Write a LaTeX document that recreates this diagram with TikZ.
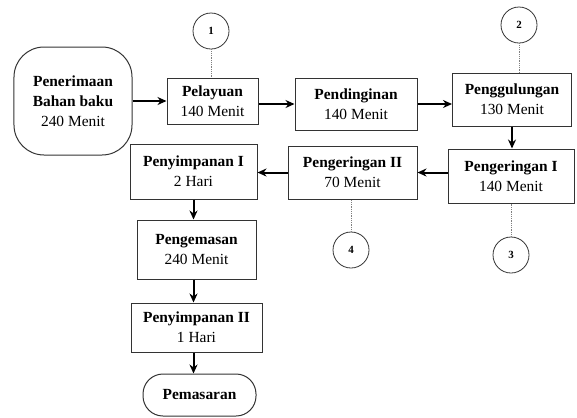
\documentclass[tikz,border=0pt]{standalone}
\usepackage{fontspec}
\setmainfont{Liberation Serif}
\usetikzlibrary{arrows,arrows.meta,positioning,calc}

\begin{document}
\begin{tikzpicture}[x=1bp,y=-1bp,
  proses/.style={draw=black!80,line width=1bp,align=center,inner sep=0pt,
    font=\fontsize{15.5}{20}\selectfont},
  ujung/.style={proses,rounded corners=30bp},
  nomor/.style={draw=black!80,line width=0.8bp,circle,minimum size=36bp,inner sep=0pt,
    font=\bfseries\fontsize{11}{11}\selectfont},
  alur/.style={-{Stealth[length=9bp,width=8bp]},line width=2bp},
  titik/.style={densely dotted,gray,line width=0.8bp}]

\useasboundingbox (0,0) rectangle (577,417);

\node[ujung,minimum width=118bp,minimum height=108bp] (pen) at (73,101)
  {\textbf{Penerimaan}\\\textbf{Bahan baku}\\240 Menit};
\node[proses,minimum width=91bp,minimum height=46bp]  (pel) at (212.5,101) {\textbf{Pelayuan}\\140 Menit};
\node[proses,minimum width=122bp,minimum height=52bp] (pdg) at (356,104)   {\textbf{Pendinginan}\\140 Menit};
\node[proses,minimum width=119bp,minimum height=53bp] (pgl) at (512,99.5)  {\textbf{Penggulungan}\\130 Menit};
\node[proses,minimum width=126bp,minimum height=54bp] (pk1) at (511,176)   {\textbf{Pengeringan I}\\140 Menit};
\node[proses,minimum width=129bp,minimum height=53bp] (pk2) at (352.5,172.5) {\textbf{Pengeringan II}\\70 Menit};
\node[proses,minimum width=127bp,minimum height=55bp] (ps1) at (193.5,171.5) {\textbf{Penyimpanan I}\\2 Hari};
\node[proses,minimum width=119bp,minimum height=59bp] (pms) at (196.5,249.5) {\textbf{Pengemasan}\\240 Menit};
\node[proses,minimum width=131bp,minimum height=49bp] (ps2) at (196.5,327.5) {\textbf{Penyimpanan II}\\1 Hari};
\node[ujung,rounded corners=20bp,minimum width=113bp,minimum height=42bp] (pmr) at (199.5,395) {\textbf{Pemasaran}};

\node[nomor] (n1) at (211,31)  {1};
\node[nomor] (n2) at (519,25)  {2};
\node[nomor] (n3) at (511,255) {3};
\node[nomor] (n4) at (351,250) {4};

\draw[titik] (n1.south) -- (n1.south |- pel.north);
\draw[titik] (n2.south) -- (n2.south |- pgl.north);
\draw[titik] (n3.north) -- (n3.north |- pk1.south);
\draw[titik] (n4.north) -- (n4.north |- pk2.south);

\draw[alur] (pen) -- (pel);
\draw[alur] (pel.east |- pdg.west) -- (pdg.west);
\draw[alur] (pdg.east) -- (pdg.east -| pgl.west);
\draw[alur] (pgl.south) -- (pgl.south |- pk1.north);
\draw[alur] (pk1.west |- pk2.east) -- (pk2.east);
\draw[alur] (pk2.west) -- (pk2.west -| ps1.east);
\draw[alur] (ps1.south) -- (ps1.south |- pms.north);
\draw[alur] (pms.south -| ps1.south) -- (ps1.south |- ps2.north);
\draw[alur] (ps2.south -| ps1.south) -- (ps1.south |- pmr.north);

\end{tikzpicture}
\end{document}
